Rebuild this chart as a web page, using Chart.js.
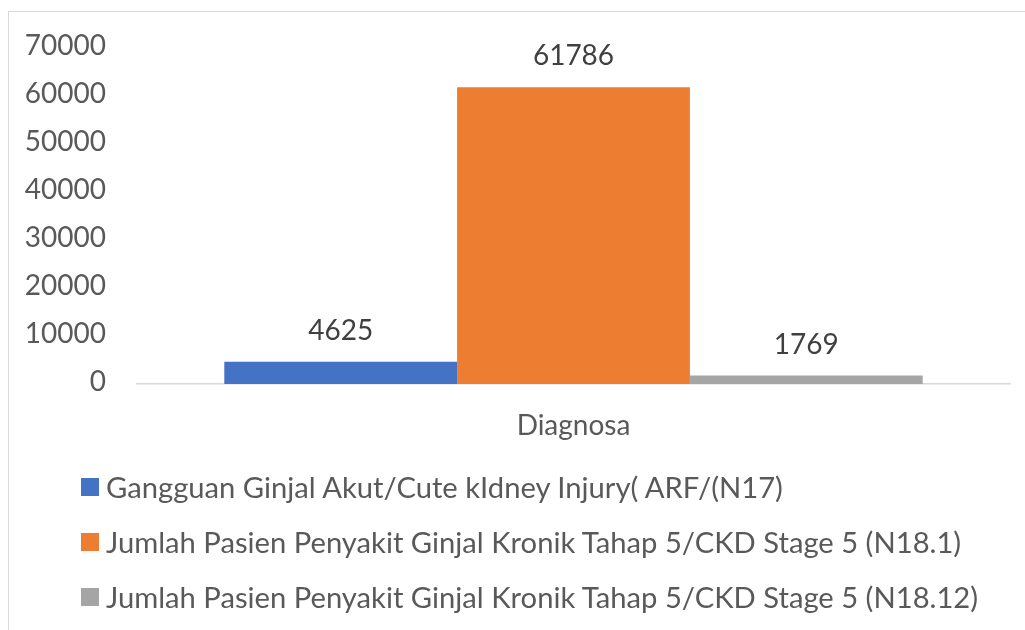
<!DOCTYPE html>
<html>
<head>
<meta charset="utf-8">
<script src="https://cdn.jsdelivr.net/npm/chart.js@4.4.1/dist/chart.umd.min.js"></script>
<style>
  html, body { margin: 0; padding: 0; background: #fff; }
  #wrap { position: relative; width: 1025px; height: 630px; overflow: hidden; }
  #frame { position: absolute; left: 8px; top: 11px; width: 1100px; height: 700px;
           border-left: 1px solid #d9d9d9; border-top: 1px solid #d9d9d9; }
  #chartBox { position: absolute; left: 0; top: 0; width: 1025px; height: 630px; }
  #legend { position: absolute; left: 81px; top: 459px; font-family: Lato, sans-serif;
            font-size: 29.2px; color: #595959; }
  .row { height: 55px; display: flex; align-items: center; white-space: nowrap; }
  .box { width: 18px; height: 18px; margin-right: 7px; flex: none; }
</style>
</head>
<body>
<div id="wrap">
  <div id="frame"></div>
  <div id="chartBox"><canvas id="c" width="1025" height="630"></canvas></div>
  <div id="legend"></div>
</div>
<script>
const categories = ['Diagnosa'];
const seriesNames = [
  'Gangguan Ginjal Akut/Cute kIdney Injury( ARF/(N17)',
  'Jumlah Pasien Penyakit Ginjal Kronik Tahap 5/CKD Stage 5 (N18.1)',
  'Jumlah Pasien Penyakit Ginjal Kronik Tahap 5/CKD Stage 5 (N18.12)'
];
const seriesValues = [[4625], [61786], [1769]];
const seriesColors = ['#4472C4', '#ED7D31', '#A5A5A5'];
const yTicks = [0, 10000, 20000, 30000, 40000, 50000, 60000, 70000];
const yTickLabels = ['0', '10000', '20000', '30000', '40000', '50000', '60000', '70000'];

const FONT = 'Lato, sans-serif';

const valueLabels = {
  id: 'valueLabels',
  afterDatasetsDraw(chart) {
    const ctx = chart.ctx;
    ctx.save();
    ctx.font = '28px ' + FONT;
    ctx.fillStyle = '#404040';
    ctx.textAlign = 'center';
    ctx.textBaseline = 'middle';
    chart.data.datasets.forEach((ds, i) => {
      const meta = chart.getDatasetMeta(i);
      meta.data.forEach((el, j) => {
        ctx.fillText(String(ds.data[j]), el.x, el.y - 31);
      });
    });
    ctx.restore();
  }
};

const chart = new Chart(document.getElementById('c'), {
  type: 'bar',
  data: {
    labels: categories,
    datasets: seriesNames.map((n, i) => ({
      label: n,
      data: seriesValues[i],
      backgroundColor: seriesColors[i],
      borderWidth: 0,
      categoryPercentage: 0.8,
      barPercentage: 1.0
    }))
  },
  options: {
    responsive: false,
    animation: false,
    layout: { padding: { left: 0, right: 15, top: 43, bottom: 186 } },
    plugins: { legend: { display: false }, tooltip: { enabled: false } },
    scales: {
      x: {
        grid: { display: false, drawTicks: false },
        border: { display: true, color: '#d9d9d9', width: 1.5 },
        ticks: { color: '#595959', font: { family: FONT, size: 28 }, padding: 25 },
        afterFit(s) { s.height = 60; }
      },
      y: {
        min: 0, max: 70000,
        afterBuildTicks(s) { s.ticks = yTicks.map(v => ({ value: v })); },
        grid: { display: false, drawTicks: false },
        border: { display: false },
        ticks: {
          color: '#595959', font: { family: FONT, size: 28 }, padding: 31, labelOffset: -2,
          callback(v) { const k = yTicks.indexOf(v); return k >= 0 ? yTickLabels[k] : ''; }
        },
        afterFit(s) { s.width = 137; }
      }
    }
  },
  plugins: [valueLabels]
});

const legend = document.getElementById('legend');
chart.data.datasets.forEach(ds => {
  const row = document.createElement('div');
  row.className = 'row';
  const box = document.createElement('span');
  box.className = 'box';
  box.style.background = ds.backgroundColor;
  const txt = document.createElement('span');
  txt.textContent = ds.label;
  row.appendChild(box);
  row.appendChild(txt);
  legend.appendChild(row);
});
</script>
</body>
</html>
